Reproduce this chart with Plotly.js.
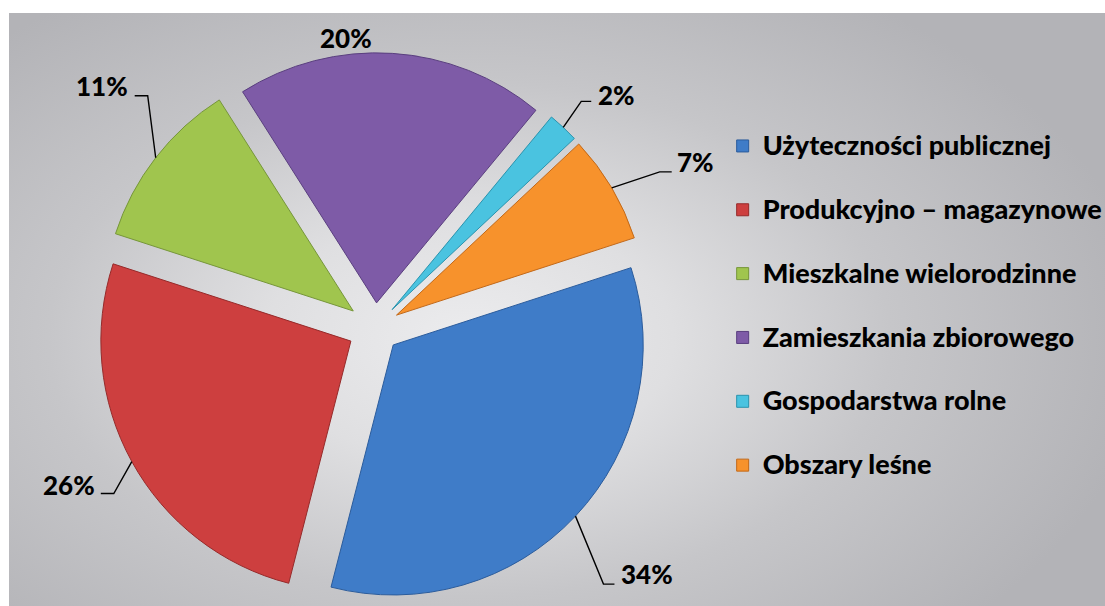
<!DOCTYPE html>
<html>
<head>
<meta charset="utf-8">
<script src="https://cdn.plot.ly/plotly-3.0.1.min.js"></script>
<style>
  html, body { margin: 0; padding: 0; background: #ffffff; }
  #wrap { position: relative; width: 1105px; height: 606px; overflow: hidden; }
  #bg { position: absolute; left: 9px; top: 13px; width: 1096px; height: 593px;
        background: radial-gradient(ellipse 62% 70% at 42% 55%, #ececee 0%, #dfdfe1 30%, #c6c6c9 62%, #b3b3b7 100%); }
  #chart { position: absolute; left: 0; top: 0; width: 1105px; height: 606px; }
</style>
</head>
<body>
<div id="wrap">
  <div id="bg"></div>
  <div id="chart"></div>
</div>
<script>
// ---- data ----
const categories = [
  "Użyteczności publicznej",
  "Produkcyjno – magazynowe",
  "Mieszkalne wielorodzinne",
  "Zamieszkania zbiorowego",
  "Gospodarstwa rolne",
  "Obszary leśne"
];
const shares = [34, 26, 11, 20, 2, 7];

// ---- style ----
const sliceColors = ["#3f7cc8", "#cd3f3f", "#a0c54e", "#7e5ba7", "#4ac3e0", "#f7922c"];
const edgeColors  = ["#2b5c9c", "#962a2a", "#76963a", "#5a3f7f", "#2b93ad", "#c2691a"];
const pulls = [0.1, 0.11, 0.11, 0.1, 0.1, 0.1];
// leader line / label placement relative to the slice's outer mid-arc point
// [elbowDx, elbowDy, tailDx, labelGap, labelDy, showLine]
const labelPlacement = [
  [28, 68, 11, 5, -10, true],
  [-18, 32, -13, 4, -9, true],
  [-8, -62, -13, 5, -10, true],
  [-46, -15, 0, 0, 0, false],
  [18, -26, 10, 5, -6, true],
  [48, -16, 12, 3, -10, true]
];

const FONT = "Lato, 'Open Sans', 'Liberation Sans', sans-serif";

const total = shares.reduce((a, b) => a + b, 0);
const pctText = shares.map(v => Math.round(v / total * 100) + "%");
const legendLabels = categories.map(c => '<span style="font-size:27px">' + c + '</span><br> ');

const trace = {
  type: "pie",
  labels: legendLabels,
  values: shares,
  sort: false,
  direction: "clockwise",
  rotation: 72,
  pull: pulls,
  marker: { colors: sliceColors, line: { color: edgeColors, width: 1 } },
  textinfo: "none",
  hoverinfo: "skip",
  domain: { x: [0.0882, 0.5905], y: [0.001, 0.917] }
};

const layout = {
  width: 1105, height: 606,
  margin: { l: 0, r: 0, t: 0, b: 0, autoexpand: false },
  paper_bgcolor: "rgba(0,0,0,0)",
  plot_bgcolor: "rgba(0,0,0,0)",
  font: { family: FONT, color: "#000000" },
  showlegend: true,
  legend: {
    x: 0.654, y: 0.795, xanchor: "left", yanchor: "top",
    bgcolor: "rgba(0,0,0,0)",
    valign: "top",
    font: { family: FONT, size: 23.4, weight: 900, color: "#000000" }
  }
};

const gd = document.getElementById("chart");
Plotly.newPlot(gd, [trace], layout, { staticPlot: true, displayModeBar: false }).then(() => {
  const cd = gd.calcdata[0];
  const W = gd._fullLayout.width, H = gd._fullLayout.height;
  const px = x => x / W, py = y => 1 - y / H;
  const shapes = [], annotations = [];
  cd.forEach(pt => {
    const i = pt.i;
    const pull = pulls[i];
    const cx = (pt.cxFinal !== undefined) ? pt.cxFinal : cd[0].cx + pull * pt.pxmid[0];
    const cy = (pt.cyFinal !== undefined) ? pt.cyFinal : cd[0].cy + pull * pt.pxmid[1];
    const ax = cx + pt.pxmid[0], ay = cy + pt.pxmid[1];
    const [edx, edy, tdx, gap, ldy, show] = labelPlacement[i];
    const ex = ax + edx, ey = ay + edy;
    const tx = ex + tdx;
    let lx, anchor;
    if (!show) { lx = ax + edx; anchor = "center"; }
    else if (tdx >= 0) { lx = tx + gap; anchor = "left"; }
    else { lx = tx - gap; anchor = "right"; }
    const ly = show ? ey + ldy : ay + edy;
    if (show) {
      shapes.push({
        type: "path", xref: "paper", yref: "paper",
        path: `M${px(ax)},${py(ay)} L${px(ex)},${py(ey)} L${px(tx)},${py(ey)}`,
        line: { color: "#000000", width: 1.4 }
      });
    }
    annotations.push({
      xref: "paper", yref: "paper", x: px(lx), y: py(ly),
      xanchor: anchor, yanchor: "middle", showarrow: false,
      text: pctText[i],
      font: { family: FONT, size: 26, weight: 900, color: "#000000" }
    });
  });
  return Plotly.relayout(gd, { shapes: shapes, annotations: annotations });
});
</script>
</body>
</html>
